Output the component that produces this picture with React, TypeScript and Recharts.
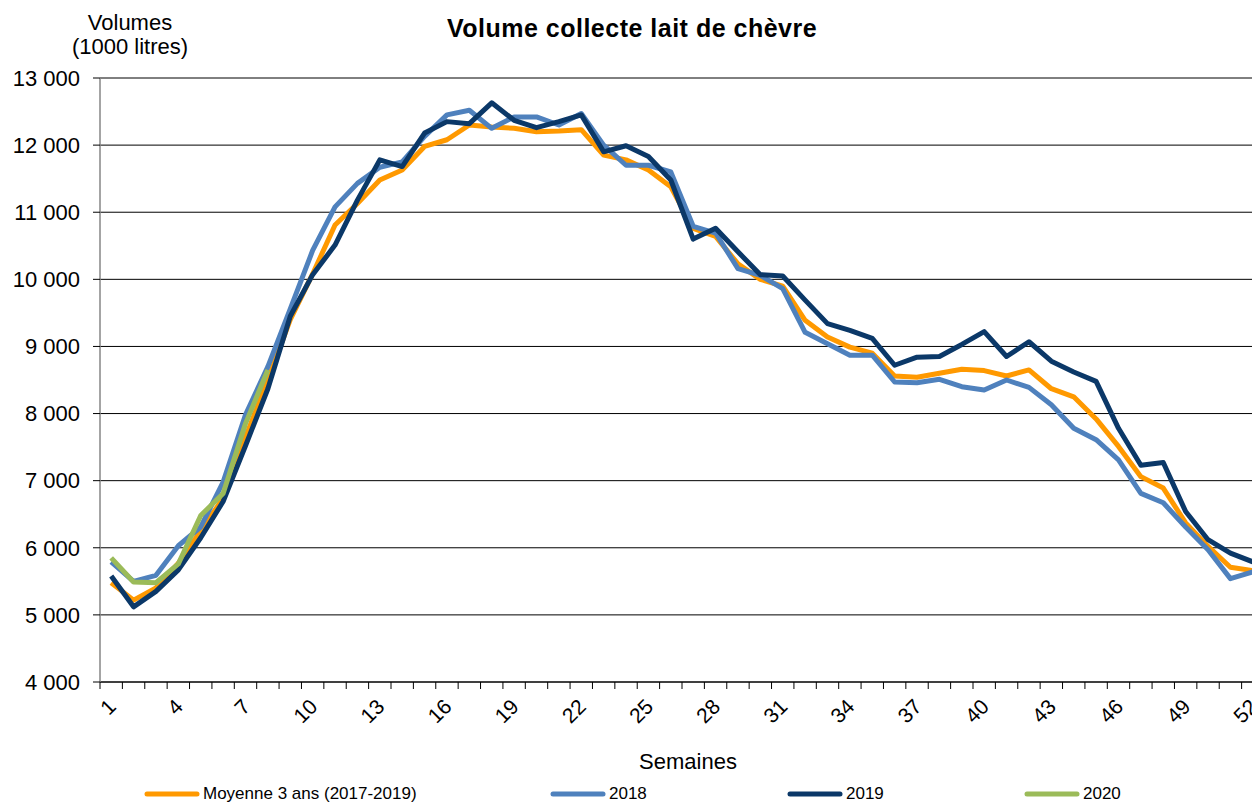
import { LineChart, Line, XAxis, YAxis, CartesianGrid } from "recharts";

const weeks = [
  1, 2, 3, 4, 5, 6, 7, 8, 9, 10, 11, 12, 13, 14, 15, 16, 17, 18, 19, 20, 21, 22, 23, 24, 25, 26,
  27, 28, 29, 30, 31, 32, 33, 34, 35, 36, 37, 38, 39, 40, 41, 42, 43, 44, 45, 46, 47, 48, 49, 50, 51, 52,
];
const labelWeeks = [1, 4, 7, 10, 13, 16, 19, 22, 25, 28, 31, 34, 37, 40, 43, 46, 49, 52];
const yTicks = [4000, 5000, 6000, 7000, 8000, 9000, 10000, 11000, 12000, 13000];

// moyenne 3 ans (2017-2019)
const moyenne = [
  5480, 5220, 5400, 5770, 6250, 6740, 7650, 8500, 9400, 10080, 10810, 11130, 11480, 11630, 11980, 12080,
  12300, 12270, 12250, 12200, 12210, 12230, 11850, 11780, 11630, 11380, 10760, 10640, 10230, 10000, 9900,
  9390, 9140, 8990, 8900, 8560, 8540, 8600, 8660, 8640, 8560, 8650, 8370, 8250, 7920, 7510, 7060, 6890,
  6370, 6020, 5710, 5660,
];
const y2018 = [
  5790, 5500, 5590, 6030, 6310, 6980, 7980, 8700, 9560, 10430, 11080, 11430, 11670, 11750, 12130, 12450,
  12520, 12250, 12420, 12420, 12300, 12470, 12000, 11700, 11700, 11600, 10790, 10690, 10160, 10060, 9860,
  9210, 9040, 8870, 8870, 8470, 8460, 8510, 8400, 8350, 8500, 8390, 8130, 7780, 7610, 7310, 6810, 6670,
  6310, 5970, 5540, 5640,
];
const y2019 = [
  5580, 5120, 5350, 5670, 6150, 6690, 7520, 8370, 9450, 10070, 10510, 11180, 11780, 11680, 12180, 12350,
  12320, 12630, 12370, 12260, 12350, 12450, 11900, 11990, 11830, 11480, 10600, 10760, 10410, 10070, 10050,
  9690, 9340, 9240, 9120, 8720, 8840, 8850, 9030, 9220, 8850, 9070, 8780, 8620, 8480, 7780, 7230, 7270,
  6540, 6120, 5920, 5790,
];
const y2020 = [5850, 5490, 5480, 5760, 6480, 6810, 7850, 8650];

const series = [
  { key: "moy", name: "Moyenne 3 ans (2017-2019)", color: "#FF9900" },
  { key: "a2018", name: "2018", color: "#4F81BD" },
  { key: "a2019", name: "2019", color: "#0B3868" },
  { key: "a2020", name: "2020", color: "#9BBB59" },
];

const data = weeks.map((w, i) => ({
  week: w,
  moy: moyenne[i],
  a2018: y2018[i],
  a2019: y2019[i],
  a2020: i < y2020.length ? y2020[i] : null,
}));

const FONT = "'Liberation Sans', Arial, sans-serif";
const CHART_W = 1280;
const PLOT_LEFT = 100;
const PLOT_RIGHT = 1264;
const BAND = (PLOT_RIGHT - PLOT_LEFT) / weeks.length;

const fmtVol = (v: number) => {
  const s = String(v);
  return s.length > 3 ? `${s.slice(0, s.length - 3)} ${s.slice(-3)}` : s;
};

function WeekTick(props: any) {
  const { x, y, payload } = props;
  const show = labelWeeks.includes(payload.value);
  const ax = x + 6;
  const ay = y + 26;
  return (
    <g>
      <line x1={x - BAND / 2} x2={x - BAND / 2} y1={y} y2={y + 7} stroke="#000" strokeWidth={1} />
      {show && (
        <text
          x={ax}
          y={ay}
          transform={`rotate(-45, ${ax}, ${ay})`}
          textAnchor="end"
          fontSize={21}
          fontFamily={FONT}
          fill="#000"
        >
          {payload.value}
        </text>
      )}
    </g>
  );
}

const legendPos = [147, 553, 790, 1027];

export default function App() {
  return (
    <div
      style={{
        position: "absolute",
        left: 0,
        top: 0,
        width: 1252,
        height: 803,
        overflow: "hidden",
        background: "#fff",
        fontFamily: FONT,
      }}
    >
      <LineChart
        width={CHART_W}
        height={803}
        data={data}
        margin={{ top: 78, right: CHART_W - PLOT_RIGHT, bottom: 0, left: 0 }}
      >
        <CartesianGrid horizontal vertical={false} stroke="#000" strokeWidth={1} />
        <XAxis
          dataKey="week"
          type="number"
          domain={[0.5, 52.5]}
          ticks={weeks}
          interval={0}
          height={121}
          tickSize={0}
          tickMargin={0}
          tickLine={false}
          axisLine={{ stroke: "#000", strokeWidth: 1 }}
          tick={<WeekTick />}
        />
        <YAxis
          domain={[4000, 13000]}
          ticks={yTicks}
          interval={0}
          width={PLOT_LEFT}
          tickSize={7}
          tickMargin={13}
          tickFormatter={fmtVol}
          axisLine={{ stroke: "#868686", strokeWidth: 1.5 }}
          tickLine={{ stroke: "#000" }}
          tick={{ fontSize: 22, fill: "#000", fontFamily: FONT }}
        />
        {series.map((s) => (
          <Line
            key={s.key}
            dataKey={s.key}
            name={s.name}
            stroke={s.color}
            strokeWidth={5}
            strokeLinejoin="round"
            dot={false}
            activeDot={false}
            connectNulls={false}
            isAnimationActive={false}
          />
        ))}
      </LineChart>

      <svg
        width={1252}
        height={803}
        style={{ position: "absolute", left: 0, top: 0, pointerEvents: "none" }}
        fontFamily={FONT}
      >
        <text x={632} y={37} textAnchor="middle" fontSize={25} fontWeight="bold" letterSpacing={0.5} fill="#000">
          Volume collecte lait de chèvre
        </text>
        <text x={130} y={30} textAnchor="middle" fontSize={22} fill="#000">
          Volumes
        </text>
        <text x={130} y={54} textAnchor="middle" fontSize={22} fill="#000">
          (1000 litres)
        </text>
        <text x={688} y={769} textAnchor="middle" fontSize={22} fill="#000">
          Semaines
        </text>
        {series.map((s, i) => (
          <g key={s.key}>
            <line
              x1={legendPos[i]}
              x2={legendPos[i] + 50}
              y1={794}
              y2={794}
              stroke={s.color}
              strokeWidth={5}
              strokeLinecap="round"
            />
            <text x={legendPos[i] + 56} y={799} fontSize={17} fill="#000">
              {s.name}
            </text>
          </g>
        ))}
      </svg>
    </div>
  );
}
